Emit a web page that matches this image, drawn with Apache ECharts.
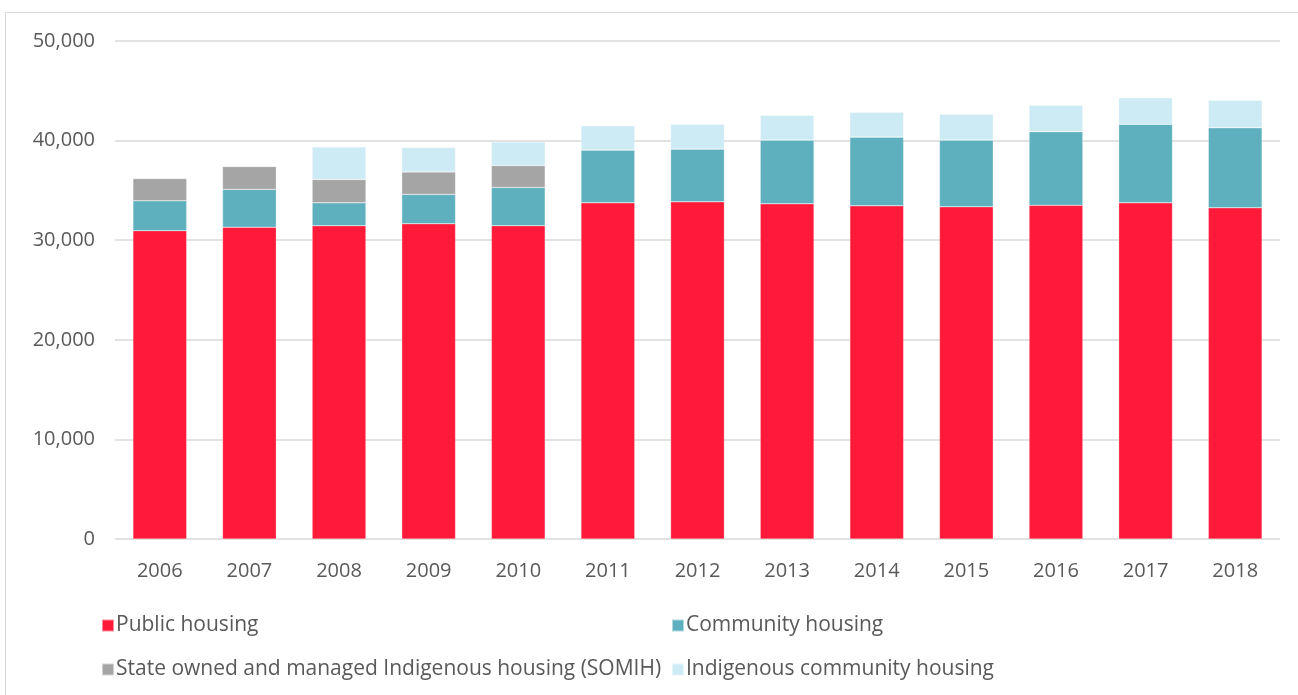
<!DOCTYPE html>
<html>
<head>
<meta charset="utf-8">
<script src="https://cdn.jsdelivr.net/npm/echarts@6/dist/echarts.min.js"></script>
<style>
  html, body { margin: 0; padding: 0; background: #fff; }
  #chart { width: 1298px; height: 695px; }
</style>
</head>
<body>
<div id="chart"></div>
<script>
const years = ['2006', '2007', '2008', '2009', '2010', '2011', '2012', '2013', '2014', '2015', '2016', '2017', '2018'];
const publicHousing = [30950, 31300, 31450, 31650, 31450, 33750, 33850, 33650, 33450, 33350, 33500, 33750, 33250];
const communityHousing = [3000, 3800, 2300, 2950, 3850, 5300, 5300, 6400, 6900, 6700, 7400, 7900, 8050];
const somih = [2250, 2300, 2350, 2250, 2200, 0, 0, 0, 0, 0, 0, 0, 0];
const indigenousCommunity = [0, 0, 3250, 2450, 2350, 2450, 2500, 2500, 2500, 2600, 2650, 2650, 2750];

const FONT = '"Open Sans", sans-serif';
const TEXT = '#595959';

const seriesDefs = [
  { name: 'Public housing', data: publicHousing, color: '#ff1a3a' },
  { name: 'Community housing', data: communityHousing, color: '#5eb0be' },
  { name: 'State owned and managed Indigenous housing (SOMIH)', data: somih, color: '#a5a5a5' },
  { name: 'Indigenous community housing', data: indigenousCommunity, color: '#cdebf4' },
];

// one legend per entry so the 2x2 layout lines up like the original
const legendPos = [
  { left: 96, top: 610 },
  { left: 666, top: 610 },
  { left: 96, top: 654 },
  { left: 666, top: 654 },
];

const chart = echarts.init(document.getElementById('chart'));
chart.setOption({
  animation: false,
  backgroundColor: '#fff',
  grid: { left: 115, right: 18, top: 41, bottom: 156 },
  graphic: [{
    type: 'rect',
    shape: { x: 5.5, y: 12.5, width: 1300, height: 700 },
    style: { fill: 'none', stroke: '#d9d9d9', lineWidth: 1 },
    silent: true,
  }],
  legend: seriesDefs.map((s, i) => ({
    data: [s.name],
    left: legendPos[i].left,
    top: legendPos[i].top,
    itemWidth: 12,
    itemHeight: 12,
    itemGap: 6,
    icon: 'rect',
    textStyle: { fontFamily: FONT, fontSize: 21, color: TEXT, padding: [0, 0, 0, -3] },
  })),
  xAxis: {
    type: 'category',
    data: years,
    axisLine: { show: false },
    axisTick: { show: false },
    axisLabel: { fontFamily: FONT, fontSize: 20, color: TEXT, margin: 22 },
  },
  yAxis: {
    type: 'value',
    min: 0,
    max: 50000,
    interval: 10000,
    axisLine: { show: false },
    axisTick: { show: false },
    axisLabel: {
      fontFamily: FONT, fontSize: 20, color: TEXT, margin: 20,
      formatter: v => v.toLocaleString('en-US'),
    },
    splitLine: { lineStyle: { color: '#d9d9d9', width: 1.5 } },
  },
  series: seriesDefs.map(s => ({
    name: s.name,
    type: 'bar',
    stack: 'total',
    data: s.data,
    barWidth: '60%',
    itemStyle: { color: s.color, borderColor: 'rgba(255,255,255,0.5)', borderWidth: 0.5 },
  })),
});
</script>
</body>
</html>
